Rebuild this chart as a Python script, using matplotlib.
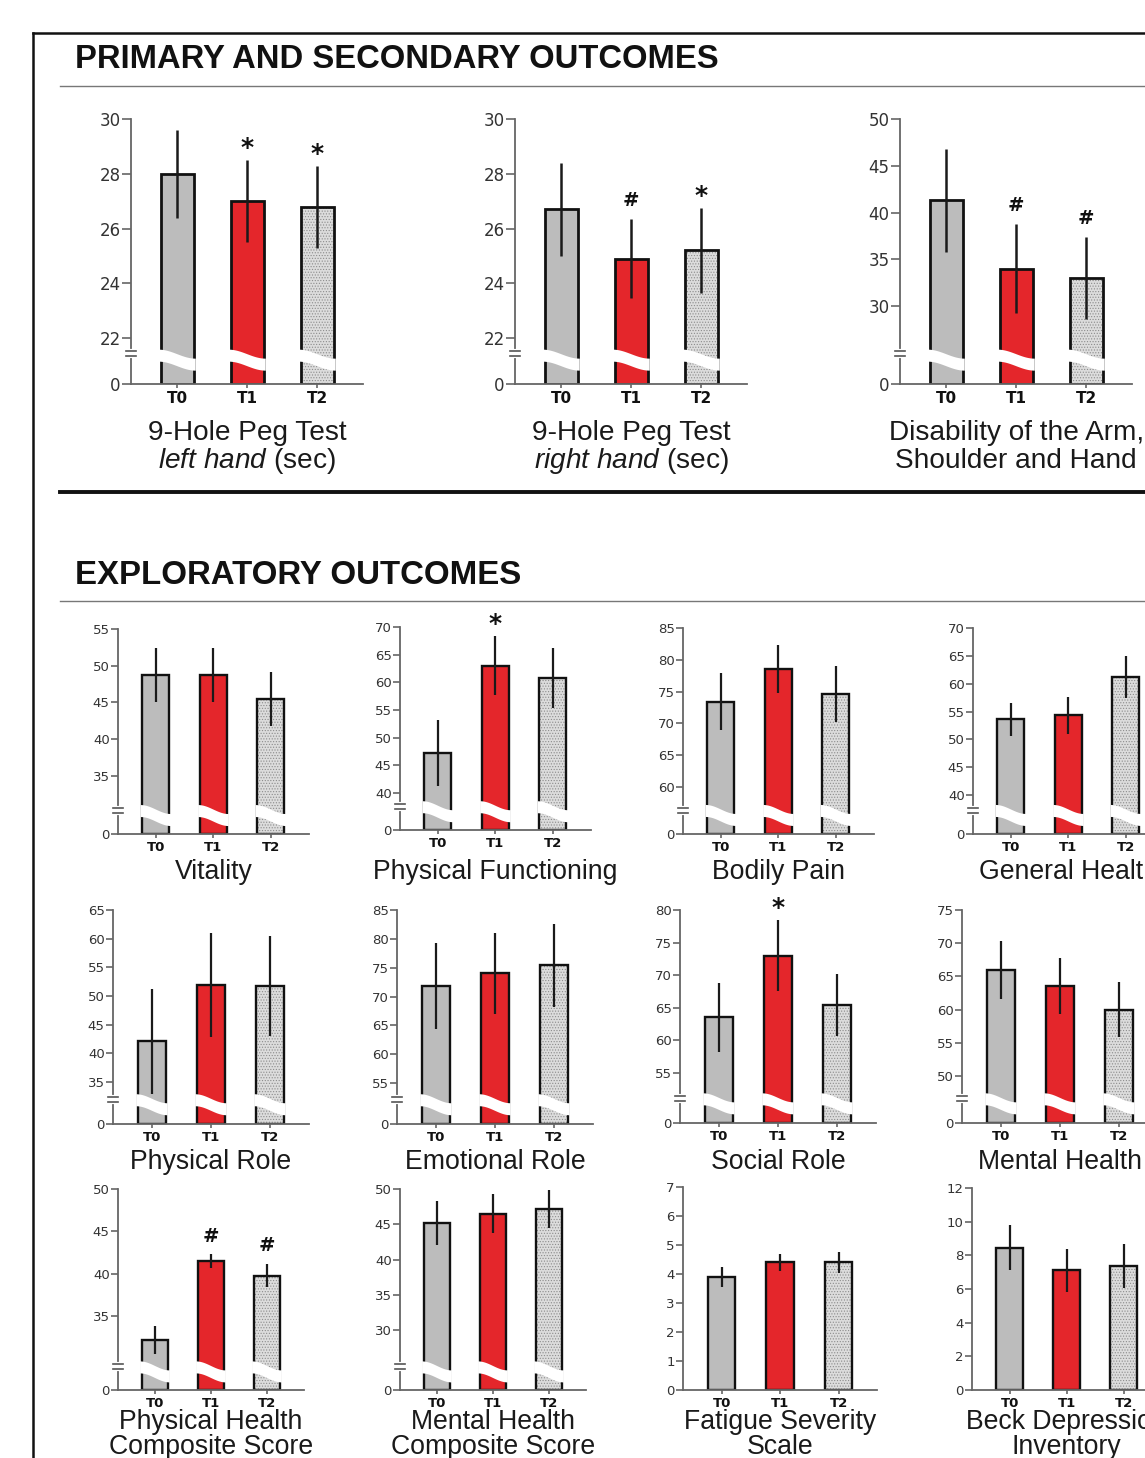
import numpy as np
import matplotlib
matplotlib.use("Agg")
import matplotlib.pyplot as plt
import matplotlib.transforms as mtransforms
from matplotlib.lines import Line2D
from matplotlib.patches import Polygon

W, H = 1145, 1458

plt.rcParams['font.family'] = ['Liberation Sans', 'DejaVu Sans']
plt.rcParams['mathtext.fontset'] = 'custom'
plt.rcParams['mathtext.rm'] = 'Liberation Sans'
plt.rcParams['mathtext.it'] = 'Liberation Sans:italic'
plt.rcParams['hatch.linewidth'] = 0.5

# ---- values (mean, SD) ----
times = ["T0", "T1", "T2"]

peg_left = [28.0, 27.0, 26.8]
peg_left_sd = [1.6, 1.5, 1.5]
peg_right = [26.7, 24.9, 25.2]
peg_right_sd = [1.7, 1.45, 1.55]
dash = [41.3, 34.0, 33.0]
dash_sd = [5.5, 4.8, 4.4]

vitality = [48.7, 48.7, 45.5]
vitality_sd = [3.7, 3.7, 3.7]
phys_func = [47.2, 63.0, 60.8]
phys_func_sd = [5.9, 5.3, 5.4]
bodily_pain = [73.4, 78.5, 74.6]
bodily_pain_sd = [4.5, 3.8, 4.4]
gen_health = [53.6, 54.3, 61.2]
gen_health_sd = [3.0, 3.3, 3.8]

phys_role = [42.1, 51.9, 51.7]
phys_role_sd = [9.1, 9.1, 8.7]
emot_role = [71.8, 74.0, 75.4]
emot_role_sd = [7.5, 7.0, 7.2]
social_role = [63.5, 73.0, 65.4]
social_role_sd = [5.3, 5.4, 4.8]
mental_health = [66.0, 63.6, 60.0]
mental_health_sd = [4.4, 4.2, 4.2]

phcs = [32.2, 41.5, 39.8]
phcs_sd = [1.7, 0.8, 1.4]
mhcs = [45.2, 46.5, 47.2]
mhcs_sd = [3.1, 2.8, 2.7]
fss = [3.9, 4.4, 4.4]
fss_sd = [0.35, 0.3, 0.35]
bdi = [8.45, 7.1, 7.35]
bdi_sd = [1.35, 1.3, 1.3]

# y tick labels
peg_ticks = [22, 24, 26, 28, 30]
dash_ticks = [30, 35, 40, 45, 50]
vitality_ticks = [35, 40, 45, 50, 55]
phys_func_ticks = [40, 45, 50, 55, 60, 65, 70]
bodily_pain_ticks = [60, 65, 70, 75, 80, 85]
gen_health_ticks = [40, 45, 50, 55, 60, 65, 70]
phys_role_ticks = [35, 40, 45, 50, 55, 60, 65]
emot_role_ticks = [55, 60, 65, 70, 75, 80, 85]
social_role_ticks = [55, 60, 65, 70, 75, 80]
mental_health_ticks = [50, 55, 60, 65, 70, 75]
phcs_ticks = [35, 40, 45, 50]
mhcs_ticks = [30, 35, 40, 45, 50]
fss_ticks = [0, 1, 2, 3, 4, 5, 6, 7]
bdi_ticks = [0, 2, 4, 6, 8, 10, 12]

# significance marks
peg_left_marks = ["", "*", "*"]
peg_right_marks = ["", "#", "*"]
dash_marks = ["", "#", "#"]
phys_func_marks = ["", "*", ""]
social_role_marks = ["", "*", ""]
phcs_marks = ["", "#", "#"]
no_marks = ["", "", ""]

fig = plt.figure(figsize=(W / 100, H / 100), dpi=100)


def panel(left, top, bottom, step, mean, sd, ticks, base, marks, title, title_dy, big):
    right = left + 3.32 * step
    ax = fig.add_axes([left / W, 1 - bottom / H, (right - left) / W, (bottom - top) / H])
    hpx = bottom - top
    wpx = right - left
    x = np.arange(3)
    ymax = ticks[-1]
    tick_fs = 12 if big else 9.5
    if base is not None:
        cut = base + 0.115 * (ymax - base)

        def fwd(y, b=base, c=cut):
            y = np.asarray(y, dtype=float)
            return np.where(y >= c, y, b + y * (c - b) / c)

        def inv(u, b=base, c=cut):
            u = np.asarray(u, dtype=float)
            return np.where(u >= c, u, (u - b) * c / (c - b))

        ax.set_yscale('function', functions=(fwd, inv))
        yt = [0] + ticks
    else:
        yt = ticks
    ax.set_yticks(yt, labels=[str(t) for t in yt], fontfamily='DejaVu Sans',
                  fontsize=tick_fs, color='#333333')
    ax.set_ylim(0, ymax)
    ax.set_xlim(-0.66, 2.66)

    w = 0.47
    fills = ['#bcbcbc', '#e4262b', '#dcdcdc']
    ax.bar(x, mean, w, color=fills, linewidth=0, zorder=2)
    ax.bar(x[2:], mean[2:], w, color='none', edgecolor='#8c8c8c', hatch='......',
           linewidth=0, zorder=2.1)
    ax.bar(x, mean, w, color='none', edgecolor='#111111',
           linewidth=2.0 if big else 1.7, zorder=2.2)
    ax.errorbar(x, mean, yerr=sd, fmt='none', ecolor='#1a1a1a',
                elinewidth=1.8 if big else 1.6, capsize=0, zorder=3)

    if base is not None:
        tr = mtransforms.blended_transform_factory(ax.transData, ax.transAxes)
        t = np.linspace(0, 1, 40)
        for xi in x:
            xs = xi - w / 2 - 0.03 + t * (w + 0.06)
            mid = 0.09 + 4.5 / hpx * np.cos(np.pi * t)
            up = mid + 6.0 / hpx
            lo = mid - 6.0 / hpx
            ax.add_patch(Polygon(np.column_stack([np.r_[xs, xs[::-1]], np.r_[up, lo[::-1]]]),
                                 closed=True, transform=tr, facecolor='white',
                                 edgecolor='none', zorder=4))
        yb = 0.115
        dx = 5.0 / wpx
        dy = 2.5 / hpx
        ax.plot([0, 0], [yb - dy, yb + dy], transform=ax.transAxes, color='white',
                lw=3, clip_on=False, zorder=5)
        for s in (-1, 1):
            ax.plot([-dx, dx], [yb + s * dy] * 2, transform=ax.transAxes, color='#555555',
                    lw=1.2, clip_on=False, zorder=6)

    for s in ('top', 'right'):
        ax.spines[s].set_visible(False)
    for s in ('left', 'bottom'):
        ax.spines[s].set_color('#666666')
        ax.spines[s].set_linewidth(1.3)
    ax.tick_params(axis='y', length=6.5 if big else 5, width=1.2, color='#666666', pad=1)
    ax.tick_params(axis='x', length=3, width=1.2, color='#666666', pad=2)
    ax.set_xticks(x, times, fontfamily='DejaVu Sans', fontweight='bold',
                  fontsize=11 if big else 9.5, color='#111111')

    for xi, m, s, k in zip(x, mean, sd, marks):
        if k:
            ax.annotate(k, (xi, m + s), xytext=(0, 12 if k == '*' else 18),
                        textcoords='offset pixels', ha='center', va='center',
                        fontfamily='DejaVu Sans', fontweight='bold',
                        fontsize=18 if k == '*' else 14, color='#111111',
                        annotation_clip=False, zorder=6)

    for line, d in zip(title, title_dy):
        ax.annotate(line, (1, 0), xycoords=('data', 'axes fraction'), xytext=(0, -d),
                    textcoords='offset pixels', ha='center', va='center',
                    fontsize=20.2 if big else 19.2, color='#1a1a1a', annotation_clip=False)
    return ax


def hline(y, x0, x1, lw, color):
    fig.add_artist(Line2D([x0 / W, x1 / W], [1 - y / H, 1 - y / H],
                          transform=fig.transFigure, lw=lw, color=color))


# frame and section rules
fig.add_artist(Line2D([33 / W, 33 / W], [1 - 33 / H, 0], transform=fig.transFigure,
                      lw=1.8, color='#111111'))
hline(33, 33, W, 1.8, '#111111')
hline(86, 60, W, 1.0, '#777777')
hline(492, 60, W, 2.8, '#111111')
hline(601, 60, W, 1.0, '#777777')

fig.text(75 / W, 1 - 60 / H, "PRIMARY AND SECONDARY OUTCOMES", fontsize=23.6,
         fontweight='bold', va='center', ha='left', color='#111111')
fig.text(75 / W, 1 - 575 / H, "EXPLORATORY OUTCOMES", fontsize=23.8,
         fontweight='bold', va='center', ha='left', color='#111111')

# primary / secondary
panel(131, 119, 384, 70, peg_left, peg_left_sd, peg_ticks, 20.32, peg_left_marks,
      ["9-Hole Peg Test", r"$\mathit{left\ hand}$ (sec)"], [49, 77], True)
panel(515, 119, 384, 70, peg_right, peg_right_sd, peg_ticks, 20.32, peg_right_marks,
      ["9-Hole Peg Test", r"$\mathit{right\ hand}$ (sec)"], [49, 77], True)
panel(900, 119, 384, 70, dash, dash_sd, dash_ticks, 21.66, dash_marks,
      ["Disability of the Arm,", "Shoulder and Hand"], [49, 77], True)

# exploratory row 1
panel(118, 629, 834, 57.5, vitality, vitality_sd, vitality_ticks, 27.1, no_marks,
      ["Vitality"], [38], False)
panel(400, 627, 830, 57.5, phys_func, phys_func_sd, phys_func_ticks, 33.3, phys_func_marks,
      ["Physical Functioning"], [42], False)
panel(683, 628, 834, 57.5, bodily_pain, bodily_pain_sd, bodily_pain_ticks, 52.6, no_marks,
      ["Bodily Pain"], [38], False)
panel(973, 628, 834, 57.5, gen_health, gen_health_sd, gen_health_ticks, 33.0, no_marks,
      ["General Health"], [38], False)

# exploratory row 2
panel(113, 910, 1124, 59, phys_role, phys_role_sd, phys_role_ticks, 27.7, no_marks,
      ["Physical Role"], [38], False)
panel(397, 910, 1124, 59, emot_role, emot_role_sd, emot_role_ticks, 47.9, no_marks,
      ["Emotional Role"], [38], False)
panel(680, 910, 1123, 59, social_role, social_role_sd, social_role_ticks, 47.3,
      social_role_marks, ["Social Role"], [39], False)
panel(962, 910, 1123, 59, mental_health, mental_health_sd, mental_health_ticks, 42.9,
      no_marks, ["Mental Health"], [39], False)

# exploratory row 3
panel(118, 1189, 1390, 56, phcs, phcs_sd, phcs_ticks, 26.3, phcs_marks,
      ["Physical Health", "Composite Score"], [32, 57], False)
panel(400, 1189, 1390, 56, mhcs, mhcs_sd, mhcs_ticks, 21.5, no_marks,
      ["Mental Health", "Composite Score"], [32, 57], False)
panel(683, 1187, 1390, 58.5, fss, fss_sd, fss_ticks, None, no_marks,
      ["Fatigue Severity", "Scale"], [32, 57], False)
panel(972, 1188, 1390, 57, bdi, bdi_sd, bdi_ticks, None, no_marks,
      ["Beck Depression", "Inventory"], [32, 57], False)

fig.savefig("out.png", dpi=100)
